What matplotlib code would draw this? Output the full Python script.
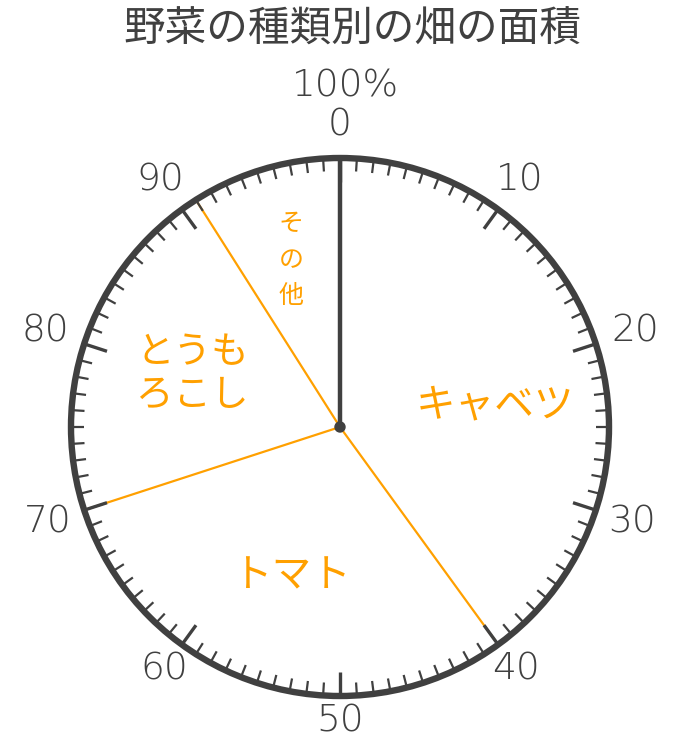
import numpy as np
import matplotlib
matplotlib.use("Agg")
import matplotlib.pyplot as plt
from matplotlib.patches import Circle

plt.rcParams['font.family'] = ['Noto Sans CJK JP', 'DejaVu Sans']

title = "野菜の種類別の畑の面積"
categories = ["キャベツ", "トマト", "とうもろこし", "その他"]
values = [40, 30, 21, 9]
scale_labels = [0, 10, 20, 30, 40, 50, 60, 70, 80, 90]

dark = "#404040"
orange = "#ffa000"

fig = plt.figure(figsize=(6.8, 7.4), dpi=100)
ax = fig.add_axes([0, 0, 1, 1])
ax.set_xlim(0, 680)
ax.set_ylim(740, 0)
ax.set_aspect("equal")
ax.axis("off")

cx, cy, R = 340, 427, 269


def pt(pct, r):
    a = np.radians(pct * 3.6)
    return cx + r * np.sin(a), cy - r * np.cos(a)


# pie boundaries
bounds = np.cumsum(values)
for b in bounds[:-1]:
    x, y = pt(b, R)
    ax.plot([cx, x], [cy, y], color=orange, lw=1.6, solid_capstyle="butt", zorder=2)

# ticks
for i in range(100):
    long_tick = i % 10 == 0
    x0, y0 = pt(i, R)
    x1, y1 = pt(i, R - (24 if long_tick else 13))
    ax.plot([x0, x1], [y0, y1], color=dark, lw=2.4 if long_tick else 1.6,
            solid_capstyle="butt", zorder=3)

ax.add_patch(Circle((cx, cy), R, fill=False, ec=dark, lw=4.6, zorder=4))

# start line at 0
x, y = pt(0, R)
ax.plot([cx, x], [cy, y], color=dark, lw=3.2, solid_capstyle="butt", zorder=5)
ax.add_patch(Circle((cx, cy), 5, color=dark, zorder=6))

# scale numbers
num_font = dict(family=["DejaVu Sans"], fontweight="light", fontsize=27, color=dark)
for v in scale_labels:
    c = np.cos(np.radians(v * 3.6))
    r = 310 - 12 * c ** 2 + 4 * c
    x, y = pt(v, r)
    ax.text(x, y, str(v), ha="center", va="center", **num_font)
ax.text(345, 86, "100%", ha="center", va="center", **num_font)

ax.text(352, 30, title, ha="center", va="center", fontsize=30, color=dark)

# category labels
starts = np.concatenate([[0], bounds[:-1]])
nudge = {"キャベツ": 10}
for name, s, v in zip(categories, starts, values):
    mid = s + v / 2 + nudge.get(name, 0) / 3.6
    if name == "その他":
        x, y = pt(mid, 174)
        ax.text(x, y, "\n".join(name), ha="center", va="center", fontsize=18,
                color=orange, linespacing=1.5)
    elif name == "とうもろこし":
        x, y = pt(mid, 157)
        ax.text(x, y, name[:3] + "\n" + name[3:], ha="center", va="center",
                fontsize=27, color=orange, linespacing=1.1)
    else:
        x, y = pt(mid, 157)
        ax.text(x, y, name, ha="center", va="center", fontsize=28.5, color=orange)

fig.savefig("out.png", dpi=100, facecolor="white")
